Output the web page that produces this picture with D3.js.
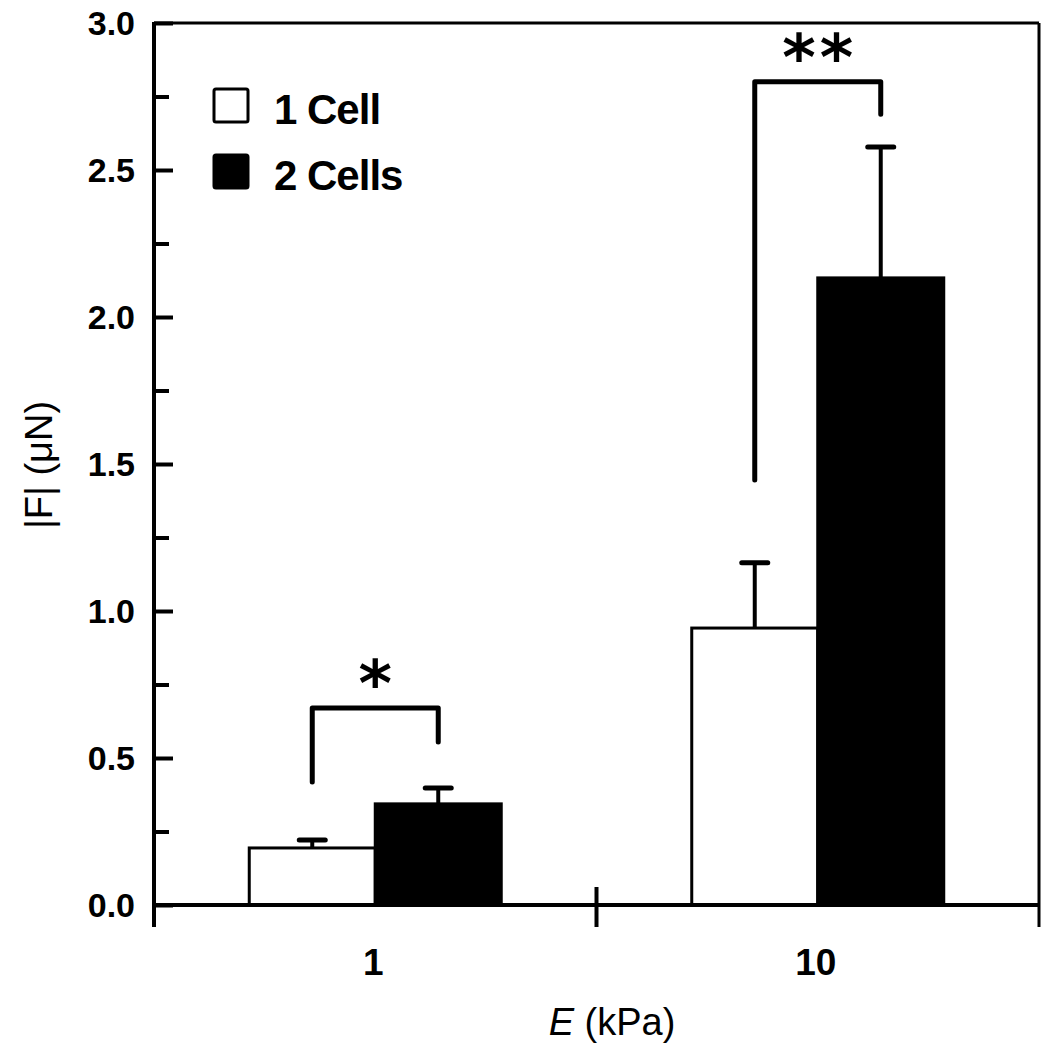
<!DOCTYPE html>
<html>
<head>
<meta charset="utf-8">
<script src="https://cdn.jsdelivr.net/npm/d3@7"></script>
<style>
html,body{margin:0;padding:0;background:#fff;}
svg{display:block;}
</style>
</head>
<body>
<svg id="chart" width="1050" height="1050"></svg>
<script>
// ---- data ----
const categories = ["1", "10"];
const seriesNames = ["1 Cell", "2 Cells"];
const oneCell = [0.194, 0.942];
const oneCellErr = [0.027, 0.222];
const twoCells = [0.344, 2.133];
const twoCellsErr = [0.054, 0.445];
const yTicks = [0, 0.5, 1.0, 1.5, 2.0, 2.5, 3.0];
const yMinorTicks = [0.25, 0.75, 1.25, 1.75, 2.25, 2.75];
const sigLabels = ["*", "**"];
const sigLeft = [0.418, 1.446];
const sigTop = [0.670, 2.800];
const sigRight = [0.554, 2.690];

// ---- layout ----
const svg = d3.select("#chart");
const X0 = 154, X1 = 1039, Y0 = 905, Y1 = 23;
const font = "'Liberation Sans', Arial, sans-serif";

const x0 = d3.scaleBand().domain(categories).range([X0, X1]).padding(0);
const x1 = d3.scaleBand().domain(seriesNames).range([0, x0.bandwidth()])
  .paddingInner(0).paddingOuter(0.756);
const y = d3.scaleLinear().domain([0, 3]).range([Y0, Y1]);

const rows = categories.map((c, i) => ({
  cat: c,
  vals: [
    {s: seriesNames[0], v: oneCell[i], e: oneCellErr[i]},
    {s: seriesNames[1], v: twoCells[i], e: twoCellsErr[i]}
  ]
}));
const fills = {"1 Cell": "#fff", "2 Cells": "#000"};

// bars
const g = svg.append("g");
rows.forEach(r => {
  r.vals.forEach(d => {
    const bx = x0(r.cat) + x1(d.s);
    const cx = bx + x1.bandwidth() / 2;
    // error bar
    g.append("line").attr("x1", cx).attr("x2", cx)
      .attr("y1", y(d.v)).attr("y2", y(d.v + d.e))
      .attr("stroke", "#000").attr("stroke-width", 4);
    g.append("line").attr("x1", cx - 13).attr("x2", cx + 13)
      .attr("y1", y(d.v + d.e)).attr("y2", y(d.v + d.e))
      .attr("stroke", "#000").attr("stroke-width", 5).attr("stroke-linecap", "round");
  });
  r.vals.forEach(d => {
    const bx = x0(r.cat) + x1(d.s);
    g.append("rect").attr("x", bx).attr("y", y(d.v))
      .attr("width", x1.bandwidth()).attr("height", Y0 - y(d.v))
      .attr("fill", fills[d.s]).attr("stroke", "#000").attr("stroke-width", 3);
  });
});

// significance brackets
categories.forEach((c, i) => {
  const lx = x0(c) + x1(seriesNames[0]) + x1.bandwidth() / 2;
  const rx = x0(c) + x1(seriesNames[1]) + x1.bandwidth() / 2;
  const path = d3.path();
  path.moveTo(lx, y(sigLeft[i]));
  path.lineTo(lx, y(sigTop[i]));
  path.lineTo(rx, y(sigTop[i]));
  path.lineTo(rx, y(sigRight[i]));
  svg.append("path").attr("d", path.toString()).attr("fill", "none")
    .attr("stroke", "#000").attr("stroke-width", 5)
    .attr("stroke-linejoin", "round").attr("stroke-linecap", "round");
  svg.append("text").attr("x", (lx + rx) / 2 + 2).attr("y", y(sigTop[i]) - 2)
    .attr("text-anchor", "middle")
    .attr("font-family", "'DejaVu Sans', sans-serif").attr("font-weight", "bold")
    .attr("font-size", 64).attr("letter-spacing", 4)
    .text(sigLabels[i]);
});

// frame
svg.append("line").attr("x1", X0).attr("x2", X1).attr("y1", Y1).attr("y2", Y1)
  .attr("stroke", "#000").attr("stroke-width", 3);
svg.append("line").attr("x1", X1).attr("x2", X1).attr("y1", Y1).attr("y2", Y0 + 22)
  .attr("stroke", "#000").attr("stroke-width", 3);

// y axis
const yAxis = d3.axisRight(y).tickValues(yTicks).tickSize(19).tickFormat("");
const ya = svg.append("g").attr("transform", `translate(${X0},0)`).call(yAxis);
ya.select(".domain").remove();
ya.selectAll(".tick line").attr("stroke", "#000").attr("stroke-width", 4);
const yAxisMinor = d3.axisRight(y).tickValues(yMinorTicks).tickSize(15).tickFormat("");
const ym = svg.append("g").attr("transform", `translate(${X0},0)`).call(yAxisMinor);
ym.select(".domain").remove();
ym.selectAll(".tick line").attr("stroke", "#000").attr("stroke-width", 4);
svg.append("line").attr("x1", X0).attr("x2", X0).attr("y1", Y1 - 1).attr("y2", Y0 + 22)
  .attr("stroke", "#000").attr("stroke-width", 4);
svg.selectAll(".ylab").data(yTicks).enter().append("text")
  .attr("x", X0 - 19).attr("y", d => y(d)).attr("dy", "0.36em")
  .attr("text-anchor", "end").attr("font-family", font).attr("font-weight", "bold")
  .attr("font-size", 34).text(d => d3.format(".1f")(d));

// x axis
svg.append("line").attr("x1", X0).attr("x2", X1).attr("y1", Y0).attr("y2", Y0)
  .attr("stroke", "#000").attr("stroke-width", 4);
const xBounds = [x0(categories[1])];
svg.selectAll(".xb").data(xBounds).enter().append("line")
  .attr("x1", d => d).attr("x2", d => d).attr("y1", Y0 - 18).attr("y2", Y0 + 22)
  .attr("stroke", "#000").attr("stroke-width", 4);
svg.selectAll(".xlab").data(categories).enter().append("text")
  .attr("x", d => x0(d) + x0.bandwidth() / 2 - 2).attr("y", 975)
  .attr("text-anchor", "middle").attr("font-family", font).attr("font-weight", "bold")
  .attr("font-size", 37).text(d => d);

// axis titles
const xt = svg.append("text").attr("x", 612).attr("y", 1035)
  .attr("text-anchor", "middle").attr("font-family", font).attr("font-size", 38);
xt.append("tspan").attr("font-style", "italic").text("E");
xt.append("tspan").text(" (kPa)");
svg.append("text").attr("transform", "translate(52,465) rotate(-90)")
  .attr("text-anchor", "middle").attr("font-family", font).attr("font-size", 38)
  .text("|F| (μN)");

// legend
const leg = svg.append("g");
seriesNames.forEach((s, i) => {
  const ly = 89 + i * 66;
  leg.append("rect").attr("x", 214).attr("y", ly).attr("width", 34).attr("height", 33)
    .attr("rx", 2).attr("fill", fills[s]).attr("stroke", "#000").attr("stroke-width", 3);
  leg.append("text").attr("x", 274).attr("y", ly + 35)
    .attr("font-family", font).attr("font-weight", "bold").attr("font-size", 42)
    .attr("letter-spacing", -1).text(s);
});
</script>
</body>
</html>
